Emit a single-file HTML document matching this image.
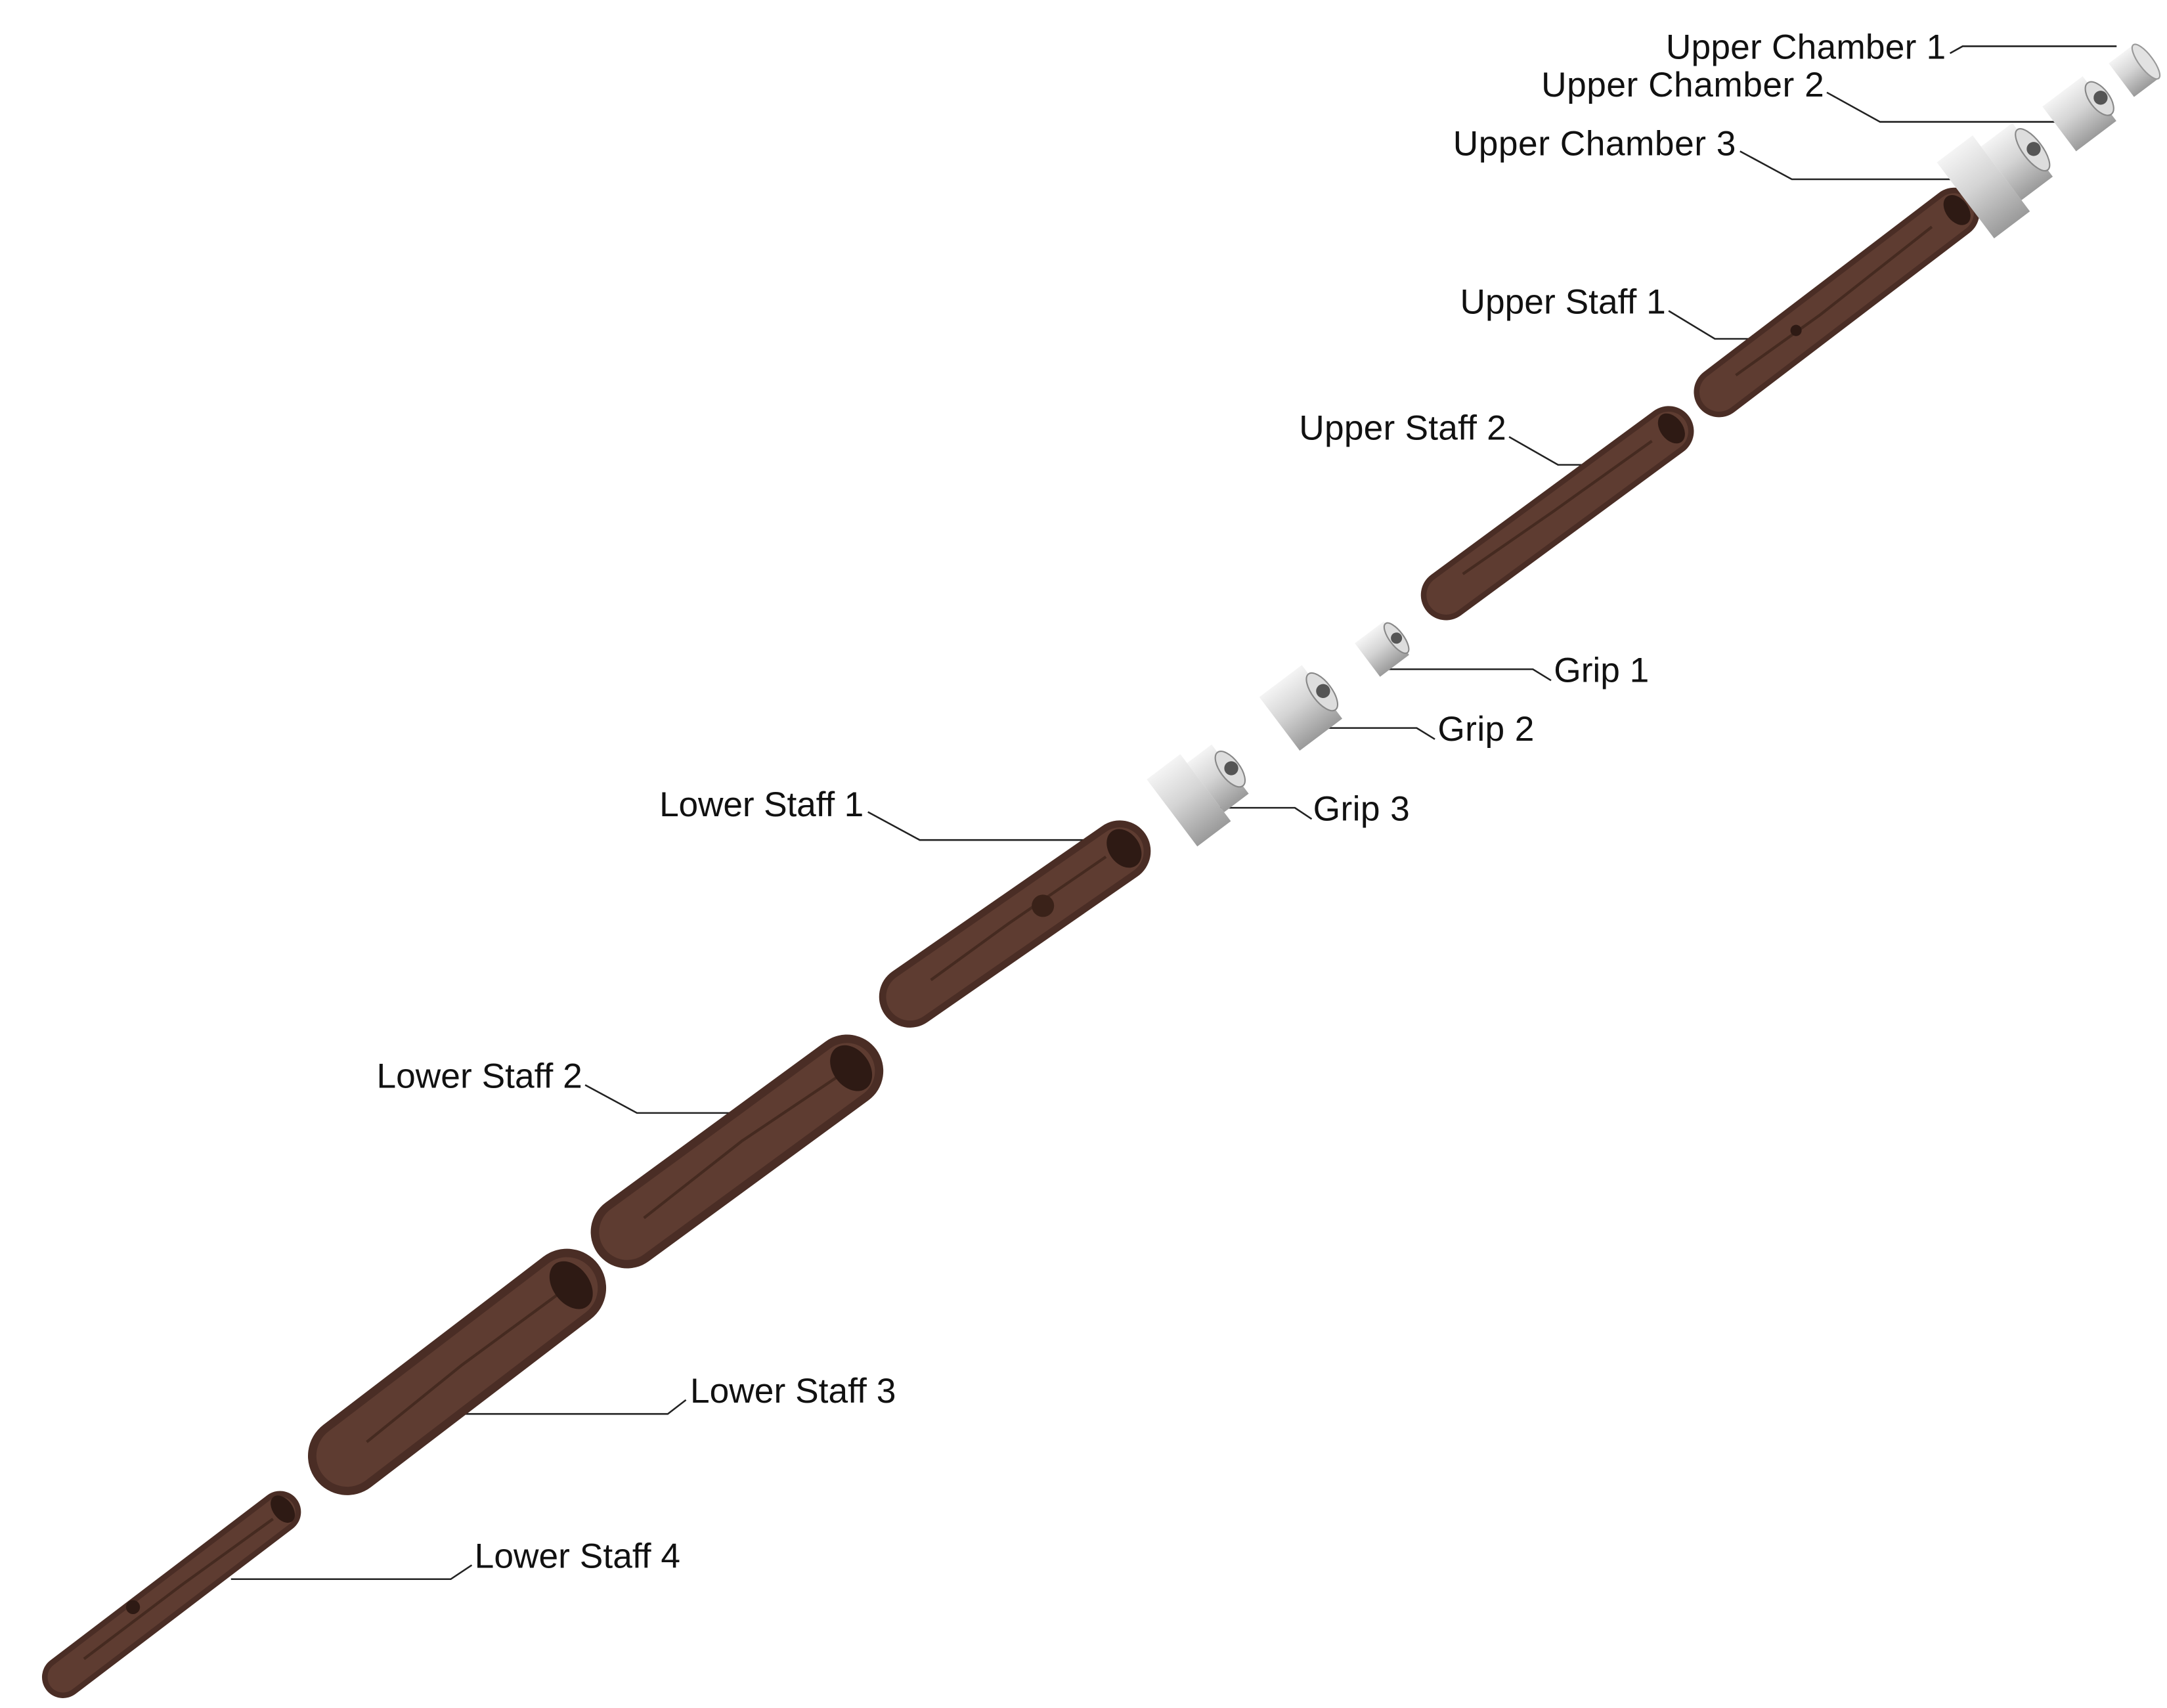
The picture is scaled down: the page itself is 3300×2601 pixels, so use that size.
<!DOCTYPE html>
<html><head><meta charset="utf-8"><style>
html,body{margin:0;padding:0;background:#fff;}
svg{display:block;}
text{font-family:"Liberation Sans",sans-serif;font-size:25px;fill:#111;}
</style></head><body>
<svg width="3300" height="2601" viewBox="0 0 1548 1220" xmlns="http://www.w3.org/2000/svg">
<defs>
<linearGradient id="met" x1="0" y1="0" x2="0" y2="1">
<stop offset="0" stop-color="#f4f4f4"/><stop offset="0.45" stop-color="#d4d4d4"/><stop offset="1" stop-color="#9a9a9a"/>
</linearGradient>
</defs>
<rect width="1548" height="1220" fill="#fff"/>

<g fill="none" stroke="#222" stroke-width="1.2">
<polyline points="1393,38 1402,33 1512,33"/>
<polyline points="1305,66 1343,87 1468,87"/>
<polyline points="1243,108 1280,128 1400,128"/>
<polyline points="1192,222 1225,242 1255,242"/>
<polyline points="1078,312 1113,332 1145,332"/>
<polyline points="983,478 1095,478 1108,486"/>
<polyline points="940,520 1012,520 1025,528"/>
<polyline points="858,577 925,577 937,585"/>
<polyline points="620,580 657,600 790,600"/>
<polyline points="418,775 455,795 522,795"/>
<polyline points="320,1010 477,1010 490,1000"/>
<polyline points="165,1128 322,1128 337,1118"/>
</g>

<g stroke-linecap="round">
<line x1="1228" y1="280" x2="1396" y2="152" stroke="#4a2d25" stroke-width="36"/>
<line x1="1228" y1="280" x2="1396" y2="152" stroke="#5e3c31" stroke-width="28"/>
<line x1="1033" y1="425" x2="1192" y2="308" stroke="#4a2d25" stroke-width="36"/>
<line x1="1033" y1="425" x2="1192" y2="308" stroke="#5e3c31" stroke-width="28"/>
<line x1="650" y1="712" x2="800" y2="608" stroke="#4a2d25" stroke-width="44"/>
<line x1="650" y1="712" x2="800" y2="608" stroke="#5e3c31" stroke-width="34"/>
<line x1="448" y1="880" x2="605" y2="765" stroke="#4a2d25" stroke-width="52"/>
<line x1="448" y1="880" x2="605" y2="765" stroke="#5e3c31" stroke-width="40"/>
<line x1="248" y1="1040" x2="405" y2="920" stroke="#4a2d25" stroke-width="56"/>
<line x1="248" y1="1040" x2="405" y2="920" stroke="#5e3c31" stroke-width="44"/>
<line x1="45" y1="1198" x2="200" y2="1080" stroke="#4a2d25" stroke-width="30"/>
<line x1="45" y1="1198" x2="200" y2="1080" stroke="#5e3c31" stroke-width="22"/>
</g>
<g fill="none" stroke="#3a2219" stroke-width="2" opacity="0.7">
<path d="M1240,268 L1300,225 L1380,162"/><path d="M1045,410 L1110,365 L1180,315"/>
<path d="M665,700 L720,660 L790,612"/><path d="M460,870 L530,815 L600,768"/>
<path d="M262,1030 L330,975 L398,925"/><path d="M60,1185 L130,1132 L195,1085"/>
</g>
<g fill="#2e1a14">
<ellipse cx="1398" cy="150" rx="8" ry="12" transform="rotate(-37 1398 150)"/>
<ellipse cx="1194" cy="306" rx="8" ry="12" transform="rotate(-37 1194 306)"/>
<ellipse cx="803" cy="606" rx="11" ry="15" transform="rotate(-35 803 606)"/>
<ellipse cx="608" cy="763" rx="13" ry="18" transform="rotate(-37 608 763)"/>
<ellipse cx="408" cy="918" rx="13" ry="19" transform="rotate(-37 408 918)"/>
<ellipse cx="202" cy="1078" rx="7" ry="11" transform="rotate(-37 202 1078)"/>
<circle cx="1283" cy="236" r="4"/><circle cx="745" cy="647" r="8" fill="#3a2219"/><circle cx="95" cy="1148" r="5"/>
</g>

<g>
<g transform="translate(1525,50) rotate(-37)"><rect x="-12" y="-15" width="22" height="30" fill="url(#met)"/><ellipse cx="10" cy="0" rx="5" ry="15" fill="#e2e2e2" stroke="#999"/></g>
<g transform="translate(1487,80) rotate(-37)"><rect x="-20" y="-20" width="36" height="40" fill="url(#met)"/><ellipse cx="16" cy="0" rx="7" ry="14" fill="#ddd" stroke="#888"/><circle cx="17" cy="0" r="5" fill="#555"/></g>
<g transform="translate(1428,125) rotate(-37)"><rect x="-30" y="-34" width="32" height="68" fill="url(#met)"/><rect x="2" y="-24" width="28" height="48" fill="url(#met)"/><ellipse cx="30" cy="0" rx="7" ry="18" fill="#ddd" stroke="#888"/><circle cx="31" cy="0" r="5" fill="#555"/></g>
<g transform="translate(988,463) rotate(-37)"><rect x="-14" y="-15" width="26" height="30" fill="url(#met)"/><ellipse cx="12" cy="0" rx="5" ry="13" fill="#ddd" stroke="#888"/><circle cx="12" cy="0" r="4" fill="#555"/></g>
<g transform="translate(930,505) rotate(-37)"><rect x="-20" y="-24" width="38" height="48" fill="url(#met)"/><ellipse cx="18" cy="0" rx="7" ry="16" fill="#ddd" stroke="#888"/><circle cx="19" cy="0" r="5" fill="#555"/></g>
<g transform="translate(858,565) rotate(-37)"><rect x="-26" y="-30" width="30" height="60" fill="url(#met)"/><rect x="4" y="-22" width="22" height="44" fill="url(#met)"/><ellipse cx="26" cy="0" rx="7" ry="15" fill="#ddd" stroke="#888"/><circle cx="27" cy="0" r="5" fill="#555"/></g>
</g>

<text x="1190" y="42" textLength="200">Upper Chamber 1</text>
<text x="1101" y="69" textLength="202">Upper Chamber 2</text>
<text x="1038" y="111" textLength="202">Upper Chamber 3</text>
<text x="1043" y="224" textLength="147">Upper Staff 1</text>
<text x="928" y="314" textLength="148">Upper Staff 2</text>
<text x="1110" y="487" textLength="68">Grip 1</text>
<text x="1027" y="529" textLength="69">Grip 2</text>
<text x="938" y="586" textLength="69">Grip 3</text>
<text x="471" y="583" textLength="146">Lower Staff 1</text>
<text x="269" y="777" textLength="147">Lower Staff 2</text>
<text x="493" y="1002" textLength="147">Lower Staff 3</text>
<text x="339" y="1120" textLength="147">Lower Staff 4</text>
</svg>
</body></html>
